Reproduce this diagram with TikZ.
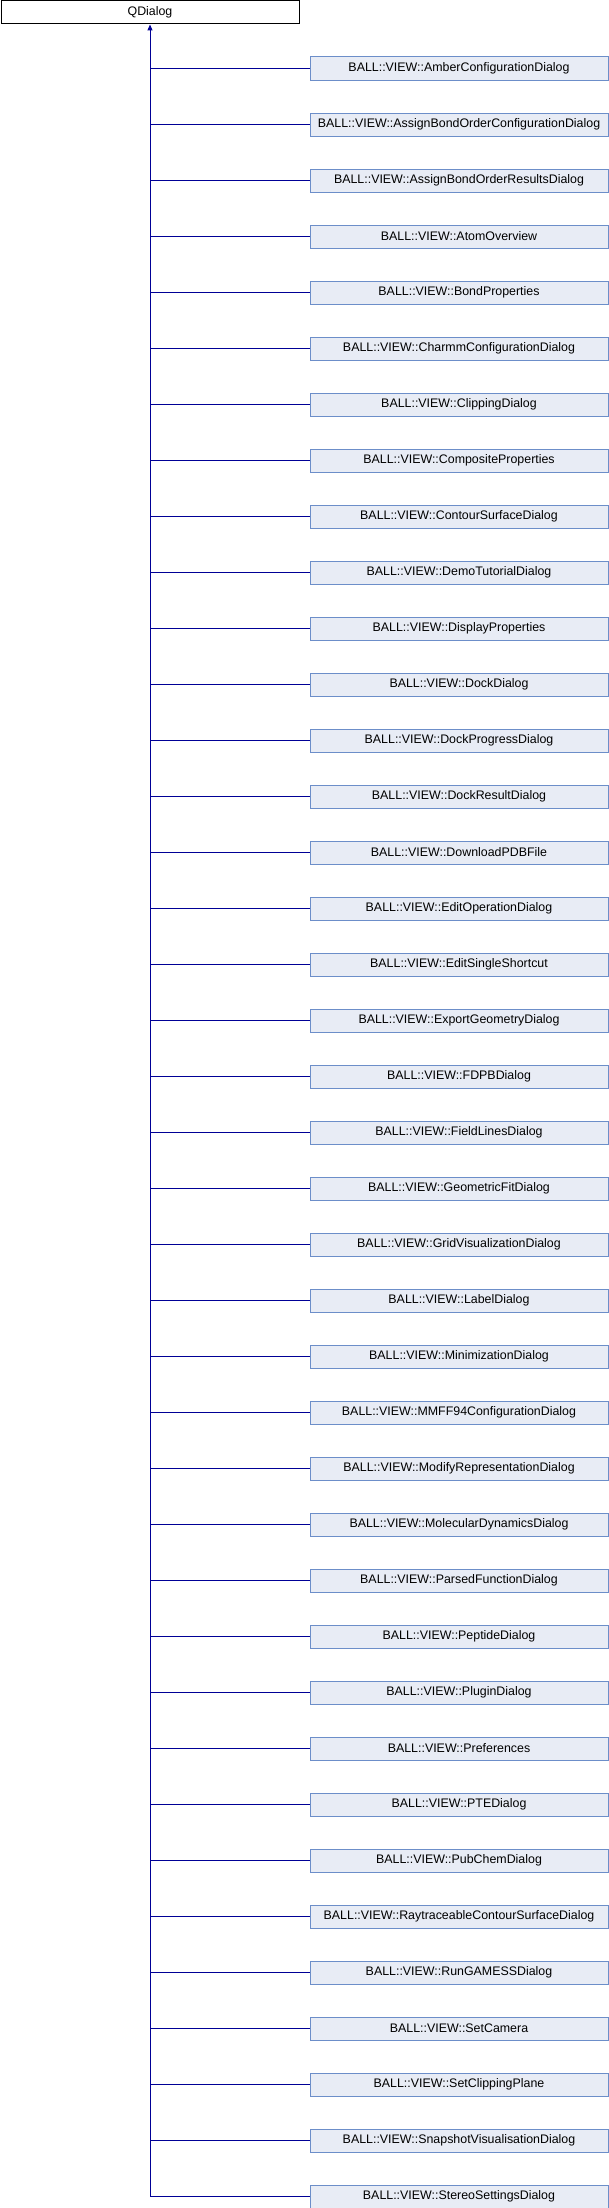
\documentclass[tikz,border=0pt]{standalone}
\usepackage{fontspec}
\setmainfont{Liberation Sans}
\usetikzlibrary{arrows.meta}
\definecolor{boxfill}{RGB}{232,236,245}
\definecolor{boxline}{RGB}{108,142,201}
\definecolor{linkline}{RGB}{0,0,150}
\begin{document}
\begin{tikzpicture}[x=1pt,y=-1pt,
                    base/.style = {shape = rectangle,
                                   draw = black,
                                   line width = 1pt,
                                   minimum width = 298pt,
                                   minimum height = 23pt,
                                   inner sep = 0pt,
                                   anchor = north west,
                                   font = \fontsize{12.4}{14}\selectfont},
                    derived/.style = {base, draw = boxline, fill = boxfill},
                    link/.style = {draw = linkline, line width = 1pt}]
	\useasboundingbox (0,0) rectangle (608,2208);
	\node[base] (QDialog) at (0.5,0.5) {QDialog};
	\foreach \cls [count=\i from 0] in {AmberConfigurationDialog,
	    AssignBondOrderConfigurationDialog, AssignBondOrderResultsDialog,
	    AtomOverview, BondProperties, CharmmConfigurationDialog,
	    ClippingDialog, CompositeProperties, ContourSurfaceDialog,
	    DemoTutorialDialog, DisplayProperties, DockDialog,
	    DockProgressDialog, DockResultDialog, DownloadPDBFile,
	    EditOperationDialog, EditSingleShortcut, ExportGeometryDialog,
	    FDPBDialog, FieldLinesDialog, GeometricFitDialog,
	    GridVisualizationDialog, LabelDialog, MinimizationDialog,
	    MMFF94ConfigurationDialog, ModifyRepresentationDialog,
	    MolecularDynamicsDialog, ParsedFunctionDialog, PeptideDialog,
	    PluginDialog, Preferences, PTEDialog, PubChemDialog,
	    RaytraceableContourSurfaceDialog, RunGAMESSDialog, SetCamera,
	    SetClippingPlane, SnapshotVisualisationDialog,
	    StereoSettingsDialog} {
		\node[derived] (\cls) at (309.5,56.5+56*\i) {BALL::VIEW::\cls};
		\path[link] (\cls.west) -- (\cls.west -| QDialog.south);
	}
	\coordinate (trunk) at (StereoSettingsDialog.west -| QDialog.south);
	\path[link, -{Triangle[length=6pt,width=5pt]}] (trunk) -- (QDialog.south);
\end{tikzpicture}
\end{document}
